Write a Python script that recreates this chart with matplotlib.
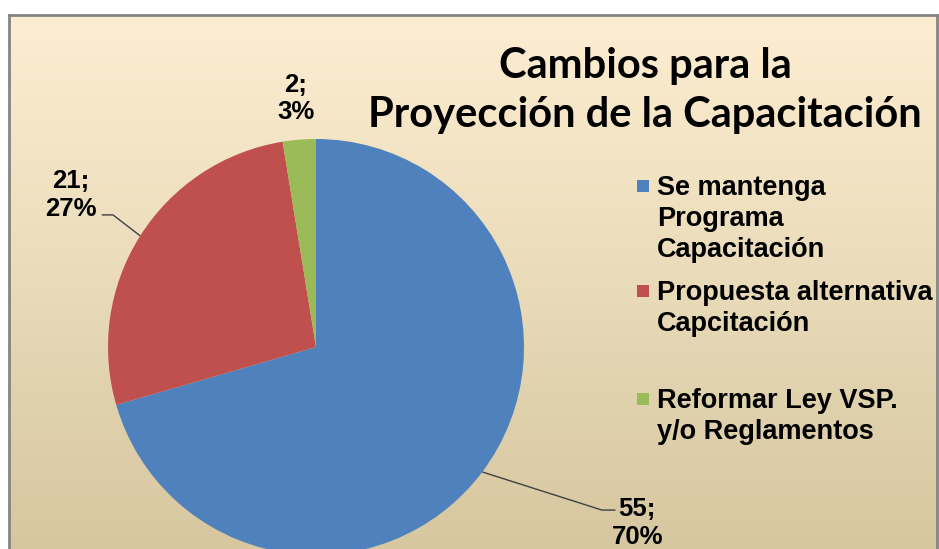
import numpy as np
import matplotlib
matplotlib.use("Agg")
import matplotlib.pyplot as plt
from matplotlib.patches import Rectangle

# ---- data ----
categories = ["Se mantenga\nPrograma\nCapacitación",
              "Propuesta alternativa\nCapcitación",
              "Reformar Ley VSP.\ny/o Reglamentos"]
values = [55, 21, 2]
percent_labels = ["70%", "27%", "3%"]
colors = ["#4F81BD", "#C0504D", "#9BBB59"]
title_lines = ["Cambios para la", "Proyección de la Capacitación"]

W, H = 939, 549
fig = plt.figure(figsize=(W / 100, H / 100), dpi=100)
fig.patch.set_facecolor("white")

def fx(x):
    return x / W

def fy(y):
    return 1 - y / H

# ---- background frame with gradient ----
left, top, right = 9, 15, 937
bg = fig.add_axes([fx(left), 0, (right - left) / W, (H - top) / H])
top_c = np.array([253, 238, 210]) / 255
bot_c = np.array([214, 199, 160]) / 255
t = np.linspace(0, 1, 256)[:, None]
grad = top_c[None, :] * (1 - t) + bot_c[None, :] * t
bg.imshow(grad[:, None, :], aspect="auto", extent=[0, 1, 0, 1], interpolation="bilinear")
bg.set_xlim(0, 1)
bg.set_ylim(0, 1)
bg.set_xticks([])
bg.set_yticks([])
for s in ["left", "top", "right"]:
    bg.spines[s].set_color("#858585")
    bg.spines[s].set_linewidth(2.0)
bg.spines["bottom"].set_visible(False)

# ---- pie ----
cx, cy, R = 316, 347, 208
ax = fig.add_axes([fx(cx - R), fy(cy + R), 2 * R / W, 2 * R / H])
wedges, _ = ax.pie(values, colors=colors, startangle=90, counterclock=False,
                   radius=1, wedgeprops=dict(linewidth=0))
ax.set_xlim(-1, 1)
ax.set_ylim(-1, 1)
ax.axis("off")

lab_font = dict(fontfamily="Liberation Sans", fontweight="bold", fontsize=18.5,
                color="black", ha="center", va="center", linespacing=1.2)
# label layout: (text x, text y, elbow x, elbow y, end x) in pie units
label_layout = [
    (1.545, -0.845, 1.375, -0.784, 1.44),
    (-1.18, 0.73, -0.976, 0.635, -1.03),
    (-0.096, 1.195, None, None, None),
]
for w, v, p, lay in zip(wedges, values, percent_labels, label_layout):
    tx, ty, ex, ey, endx = lay
    ax.text(tx, ty, f"{v};\n{p}", clip_on=False, **lab_font)
    if ex is not None:
        mid = np.deg2rad((w.theta1 + w.theta2) / 2)
        px, py = np.cos(mid), np.sin(mid)
        ax.plot([px, ex, endx], [py, ey, ey], color="#404040", lw=1.0,
                clip_on=False, solid_capstyle="butt")

# ---- title ----
title_font = dict(fontfamily="Lato", fontweight="bold", fontsize=30, color="black",
                  ha="center", va="baseline")
fig.text(fx(645), fy(78), title_lines[0], **title_font)
fig.text(fx(645), fy(127), title_lines[1], **title_font)

# ---- legend (manual) ----
leg_first_baseline = [195, 300, 408]
pitch = 31
for cat, col, b in zip(categories, colors, leg_first_baseline):
    fig.patches.append(Rectangle((fx(637), fy(b - 3)), 12 / W, 12 / H,
                                 transform=fig.transFigure, facecolor=col,
                                 edgecolor="none"))
    for i, line in enumerate(cat.split("\n")):
        fig.text(fx(657), fy(b + i * pitch), line, fontfamily="Liberation Sans",
                 fontweight="bold", fontsize=19.5, color="black",
                 ha="left", va="baseline")

fig.savefig("out.png", dpi=100, facecolor=fig.get_facecolor())
